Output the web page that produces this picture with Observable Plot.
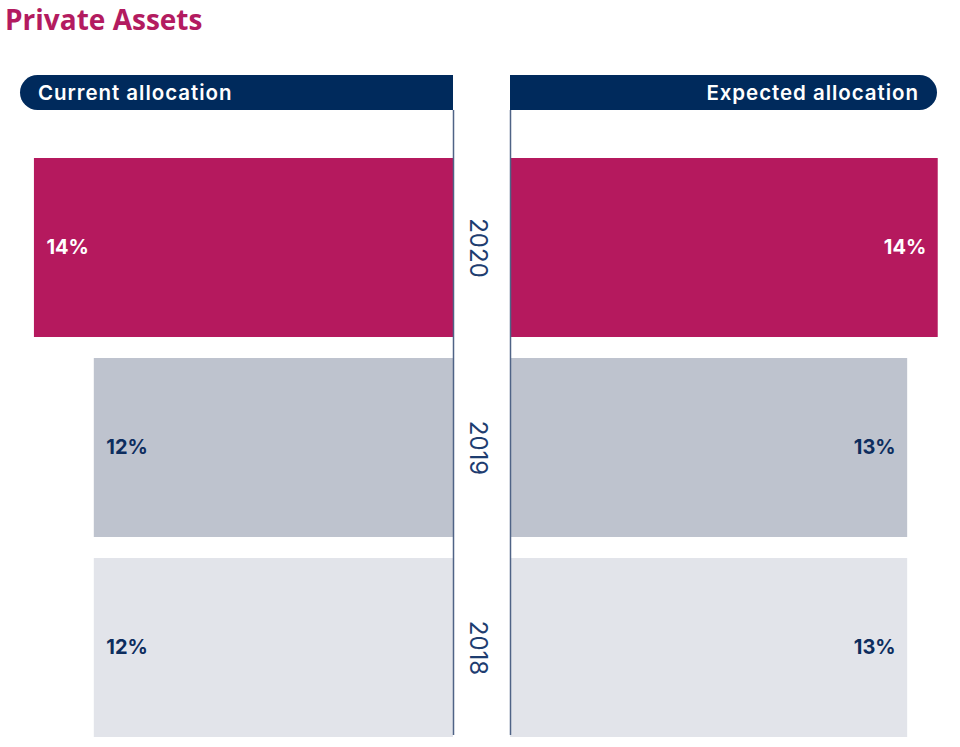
<!DOCTYPE html>
<html>
<head>
<meta charset="utf-8">
<script src="https://cdn.jsdelivr.net/npm/d3@7"></script>
<script src="https://cdn.jsdelivr.net/npm/@observablehq/plot@0.6"></script>
<style>
  html, body { margin: 0; padding: 0; background: #fff; }
  #root { position: relative; width: 960px; height: 747px; overflow: hidden; }
  #title { position: absolute; left: 5px; top: 0px; font: 700 28px "Open Sans", sans-serif; line-height: normal; color: #B31B60; margin: 0; white-space: nowrap; }
  .hdr { position: absolute; top: 75px; height: 35px; background: #002A5C; color: #fff;
         font: 600 20.5px/35px Inter, sans-serif; letter-spacing: 0.95px; box-sizing: border-box; white-space: nowrap; }
  #hdrL { left: 20px; width: 433px; border-radius: 17.5px 0 0 17.5px; padding-left: 18px; }
  #hdrR { left: 510px; width: 427px; border-radius: 0 17.5px 17.5px 0; padding-right: 18px; text-align: right; }
  #left { position: absolute; left: 0; top: 110px; }
  #right { position: absolute; left: 453px; top: 110px; }
  svg text.pct { letter-spacing: 1px; }
</style>
</head>
<body>
<div id="root">
  <div id="title">Private Assets</div>
  <div class="hdr" id="hdrL">Current allocation</div>
  <div class="hdr" id="hdrR">Expected allocation</div>
  <div id="left"></div>
  <div id="right"></div>
</div>
<script>
const years = ["2020", "2019", "2018"];
const current = [14, 12, 12];
const expected = [14, 13, 13];
const sideTitles = ["Current allocation", "Expected allocation"];

const barColors = ["#B5195E", "#BEC3CE", "#E2E4EA"];
const navy = "#0D2D5E";
const lineColor = "#4F6386";

const data = years.map((y, i) => ({year: y, current: current[i], expected: expected[i]}));

const yOpts = {domain: years, axis: null, paddingInner: 0.105, paddingOuter: 0};
const colorOpts = {domain: years, range: barColors};
const labelFont = {fontSize: 20, fontWeight: 700, fontFamily: "Inter, sans-serif"};
const common = {height: 637, marginTop: 48, marginBottom: 10,
  style: {background: "transparent", overflow: "visible", fontFamily: "Inter, sans-serif"}};

const left = Plot.plot({
  ...common,
  width: 470, marginLeft: 4, marginRight: 17,
  x: {domain: [0, 15], reverse: true, axis: null},
  y: yOpts,
  color: colorOpts,
  marks: [
    Plot.barX(data, {x: "current", y: "year", fill: "year"}),
    Plot.text(data, {filter: d => d.year === years[0], x: "current", y: "year", text: d => d.current + "%",
      textAnchor: "start", dx: 12, fill: "white", className: "pct", ...labelFont}),
    Plot.text(data, {filter: d => d.year !== years[0], x: "current", y: "year", text: d => d.current + "%",
      textAnchor: "start", dx: 12, fill: navy, className: "pct", ...labelFont}),
    Plot.ruleX([0], {stroke: lineColor, strokeWidth: 1.5, insetTop: -48, insetBottom: 2})
  ]
});

const right = Plot.plot({
  ...common,
  width: 507, marginLeft: 57, marginRight: 7,
  x: {domain: [0, 14.5], axis: null},
  y: yOpts,
  color: colorOpts,
  marks: [
    Plot.barX(data, {x: "expected", y: "year", fill: "year"}),
    Plot.text(data, {filter: d => d.year === years[0], x: "expected", y: "year", text: d => d.expected + "%",
      textAnchor: "end", dx: -12, fill: "white", className: "pct", ...labelFont}),
    Plot.text(data, {filter: d => d.year !== years[0], x: "expected", y: "year", text: d => d.expected + "%",
      textAnchor: "end", dx: -12, fill: navy, className: "pct", ...labelFont}),
    Plot.ruleX([0], {stroke: lineColor, strokeWidth: 1.5, insetTop: -48, insetBottom: 2}),
    Plot.text(data, {y: "year", text: "year", frameAnchor: "left", textAnchor: "middle", rotate: 90,
      dx: -33, fill: "#1E3D70", fontSize: 24, fontWeight: 400, fontFamily: "Inter, sans-serif"})
  ]
});

document.getElementById("left").appendChild(left);
document.getElementById("right").appendChild(right);
</script>
</body>
</html>
